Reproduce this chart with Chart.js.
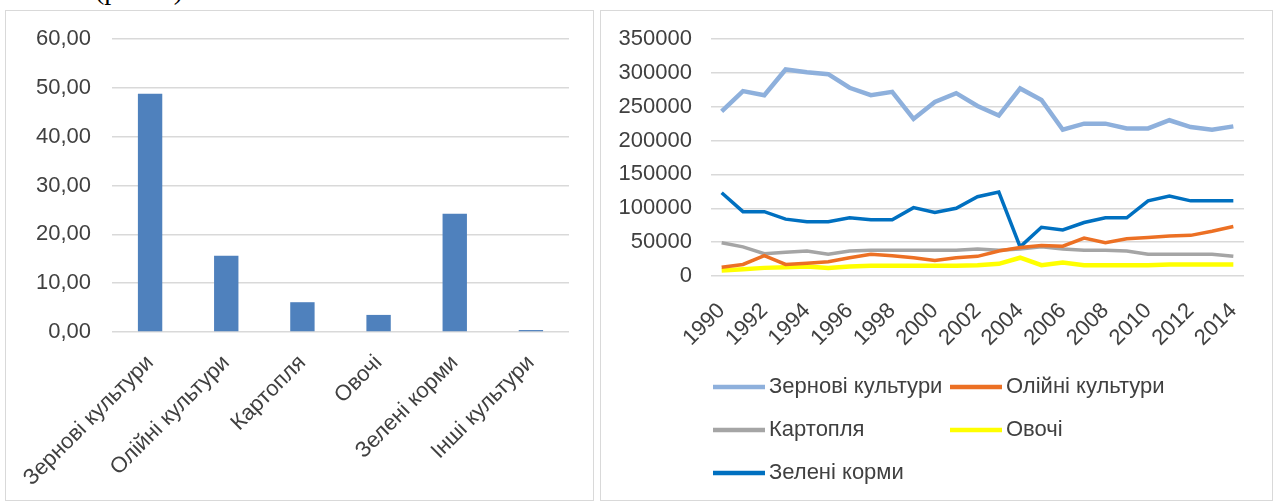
<!DOCTYPE html>
<html>
<head>
<meta charset="utf-8">
<script src="https://cdn.jsdelivr.net/npm/chart.js@4.4.1/dist/chart.umd.min.js"></script>
<style>
  html, body { margin: 0; padding: 0; background: #fff; }
  body { width: 1277px; height: 503px; position: relative; overflow: hidden; }
  .caption {
    position: absolute; left: 95px; top: -26px;
    font: 28px "Liberation Serif", serif; color: #000;
  }
  .box {
    position: absolute; border: 1px solid #d9d9d9; background: #fff;
  }
  #left-box { left: 5px; top: 10px; width: 587px; height: 489px; }
  #right-box { left: 600px; top: 10px; width: 671px; height: 489px; }
  canvas { display: block; }
</style>
</head>
<body>
<div class="caption">(рис. 2)</div>
<div class="box" id="left-box"><canvas id="bar-chart" width="587" height="489"></canvas></div>
<div class="box" id="right-box"><canvas id="line-chart" width="671" height="489"></canvas></div>

<script>
// Left chart: share of crops, %
const cropNames = ['Зернові культури', 'Олійні культури', 'Картопля', 'Овочі', 'Зелені корми', 'Інші культури'];
const cropShares = [48.8, 15.6, 6.1, 3.5, 24.2, 0.4];

// Right chart: sown area by year
const years = ['1990', '1991', '1992', '1993', '1994', '1995', '1996', '1997', '1998', '1999', '2000', '2001', '2002',
    '2003', '2004', '2005', '2006', '2007', '2008', '2009', '2010', '2011', '2012', '2013', '2014'];
const grain = [243000, 273000, 267000, 305000, 301000, 298000, 278000, 267000, 272000, 232000, 257000, 270000, 251000,
    237000, 277000, 260000, 216000, 225000, 225000, 218000, 218000, 230000, 220000, 216000, 221000];
const oilCrops = [13000, 17000, 30000, 17000, 19000, 21000, 27000, 32000, 30000, 27000, 23000, 27000, 29000,
    37000, 42000, 45000, 44000, 56000, 49000, 55000, 57000, 59000, 60000, 66000, 73000];
const potato = [49000, 43000, 33000, 35000, 37000, 32000, 37000, 38000, 38000, 38000, 38000, 38000, 40000,
    38000, 40000, 43000, 40000, 38000, 38000, 37000, 32000, 32000, 32000, 32000, 29000];
const vegetables = [8000, 10000, 12000, 13000, 14000, 12000, 14000, 15000, 15000, 15000, 15000, 15000, 16000,
    18000, 27000, 16000, 20000, 16000, 16000, 16000, 16000, 17000, 17000, 17000, 17000];
const greenFodder = [123000, 95000, 95000, 84000, 80000, 80000, 86000, 83000, 83000, 101000, 94000, 100000, 117000,
    124000, 43000, 72000, 68000, 79000, 86000, 86000, 111000, 118000, 111000, 111000, 111000];
const lineNames = ['Зернові культури', 'Олійні культури', 'Картопля', 'Овочі', 'Зелені корми'];

const tickFont = { family: '"Liberation Sans", Arial, sans-serif', size: 22 };
const textColor = '#404040';
const gridColor = '#d9d9d9';

Chart.defaults.animation = false;
Chart.defaults.color = textColor;

// Bar chart
new Chart(document.getElementById('bar-chart'), {
    type: 'bar',
    data: {
        labels: cropNames,
        datasets: [{
            data: cropShares,
            backgroundColor: '#4f81bd',
            barPercentage: 0.32,
            categoryPercentage: 1
        }]
    },
    options: {
        responsive: false,
        layout: { padding: { top: 28, right: 24, left: 0, bottom: 0 } },
        plugins: { legend: { display: false }, tooltip: { enabled: false } },
        scales: {
            x: {
                grid: { display: false },
                border: { display: false },
                ticks: { font: tickFont, color: textColor, minRotation: 45, maxRotation: 45, padding: 10 },
                afterFit: (scale) => { scale.height = 168; }
            },
            y: {
                min: 0,
                max: 60,
                grid: { color: gridColor, drawTicks: false, lineWidth: 1.5 },
                border: { display: false },
                ticks: {
                    stepSize: 10,
                    font: tickFont,
                    color: textColor,
                    padding: 21,
                    callback: (v) => v.toFixed(2).replace('.', ',')
                },
                // fixed axis box so the plot area lands where the original's does
                afterFit: (scale) => { scale.width = 106; scale.paddingTop = 0; scale.paddingBottom = 0; }
            }
        }
    }
});

// Legend laid out in two columns like the original
const gridLegend = {
    id: 'gridLegend',
    afterDraw(chart) {
        const ctx = chart.ctx;
        const colX = [112, 349];
        const rowY = [376, 419, 462];
        ctx.save();
        ctx.font = '22px "Liberation Sans", Arial, sans-serif';
        ctx.textBaseline = 'middle';
        ctx.fillStyle = textColor;
        chart.data.datasets.forEach((ds, i) => {
            const x = colX[i % 2];
            const y = rowY[Math.floor(i / 2)];
            ctx.strokeStyle = ds.borderColor;
            ctx.lineWidth = 4.5;
            ctx.beginPath();
            ctx.moveTo(x, y);
            ctx.lineTo(x + 52, y);
            ctx.stroke();
            ctx.fillText(ds.label, x + 56, y);
        });
        ctx.restore();
    }
};

const lineSeries = [grain, oilCrops, potato, vegetables, greenFodder];
const lineColors = ['#8eb0dc', '#ec7024', '#a5a5a5', '#ffff00', '#0070c0'];
const lineWidths = [4.5, 3.5, 3.5, 4.5, 3.5];

new Chart(document.getElementById('line-chart'), {
    type: 'line',
    data: {
        labels: years,
        datasets: lineSeries.map((values, i) => ({
            label: lineNames[i],
            data: values,
            borderColor: lineColors[i],
            backgroundColor: lineColors[i],
            borderWidth: lineWidths[i],
            pointRadius: 0,
            tension: 0
        }))
    },
    options: {
        responsive: false,
        layout: { padding: { top: 28, right: 28, left: 0, bottom: 144 } },
        plugins: { legend: { display: false }, tooltip: { enabled: false } },
        scales: {
            x: {
                offset: true,
                grid: { display: false },
                border: { display: false },
                ticks: {
                    font: tickFont,
                    color: textColor,
                    autoSkip: false,
                    minRotation: 45,
                    maxRotation: 45,
                    padding: 14,
                    callback: function (v, i) { return i % 2 === 0 ? this.getLabelForValue(v) : ''; }
                },
                afterFit: (scale) => { scale.height = 80; }
            },
            y: {
                min: 0,
                max: 350000,
                grid: { color: gridColor, drawTicks: false, lineWidth: 1.5 },
                border: { display: false },
                ticks: {
                    stepSize: 50000,
                    font: tickFont,
                    color: textColor,
                    padding: 19,
                    callback: (v) => String(v)
                },
                afterFit: (scale) => { scale.width = 110; scale.paddingTop = 0; scale.paddingBottom = 0; }
            }
        }
    },
    plugins: [gridLegend]
});
</script>
</body>
</html>
